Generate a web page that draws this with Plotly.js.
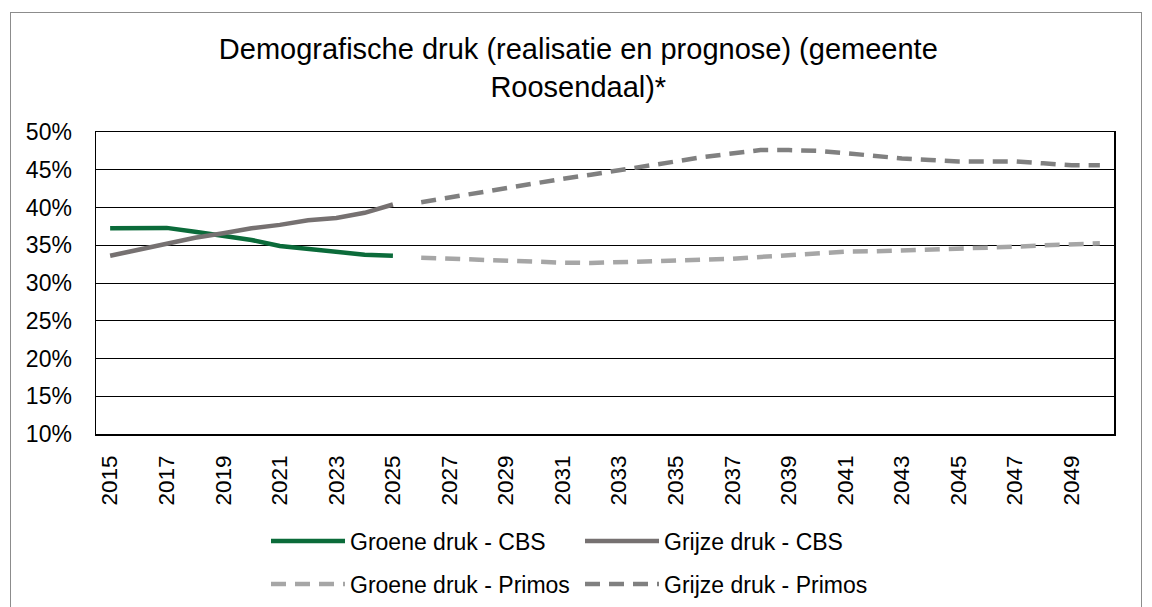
<!DOCTYPE html>
<html>
<head>
<meta charset="utf-8">
<script src="https://cdn.plot.ly/plotly-3.0.1.min.js"></script>
<style>
  html, body { margin: 0; padding: 0; background: #fff; }
  #wrap { position: relative; width: 1152px; height: 607px; overflow: hidden; }
  #chart { position: absolute; left: 0; top: 0; width: 1152px; height: 607px; }
  #frame { position: absolute; left: 10px; top: 12px; width: 1132px; height: 640px;
           border: 1.5px solid #8c8c8c; pointer-events: none; box-sizing: border-box; }
</style>
</head>
<body>
<div id="wrap">
  <div id="chart"></div>
  <div id="frame"></div>
</div>
<script>
// Years
const yearsCBS = [2015, 2016, 2017, 2018, 2019, 2020, 2021, 2022, 2023, 2024, 2025];
const yearsPrimos = [2026, 2027, 2028, 2029, 2030, 2031, 2032, 2033, 2034, 2035, 2036, 2037,
  2038, 2039, 2040, 2041, 2042, 2043, 2044, 2045, 2046, 2047, 2048, 2049, 2050];

// Values (%)
const groeneCBS = [37.25, 37.25, 37.3, 36.8, 36.3, 35.7, 34.9, 34.5, 34.0, 33.75, 33.6];
const grijzeCBS = [33.6, 34.4, 35.3, 36.0, 36.6, 37.25, 37.7, 38.3, 38.6, 39.3, 40.4];
const groenePrimos = [33.35, 33.2, 33.05, 32.9, 32.8, 32.7, 32.65, 32.75, 32.8, 32.9, 33.05, 33.2,
  33.45, 33.7, 33.95, 34.15, 34.2, 34.3, 34.45, 34.6, 34.7, 34.8, 35.0, 35.15, 35.25];
const grijzePrimos = [40.7, 41.35, 41.95, 42.6, 43.2, 43.8, 44.35, 44.9, 45.4, 46.1, 46.7, 47.2,
  47.6, 47.6, 47.5, 47.2, 46.8, 46.5, 46.3, 46.1, 46.1, 46.1, 45.85, 45.6, 45.6];

const xTicks = [2015, 2017, 2019, 2021, 2023, 2025, 2027, 2029, 2031, 2033, 2035, 2037,
  2039, 2041, 2043, 2045, 2047, 2049];
const seriesNames = ['Groene druk - CBS', 'Grijze druk - CBS', 'Groene druk - Primos', 'Grijze druk - Primos'];
const titleText = 'Demografische druk (realisatie en prognose) (gemeente<br>Roosendaal)*';

const FONT = 'Liberation Sans, Arial, sans-serif';
const dashPat = '15px,9px';

const traces = [
  { x: yearsCBS, y: groeneCBS, name: seriesNames[0], type: 'scatter', mode: 'lines',
    line: { color: '#0b6b3a', width: 4.5 }, legend: 'legend' },
  { x: yearsCBS, y: grijzeCBS, name: seriesNames[1], type: 'scatter', mode: 'lines',
    line: { color: '#767171', width: 4.5 }, legend: 'legend' },
  { x: yearsPrimos, y: groenePrimos, name: seriesNames[2], type: 'scatter', mode: 'lines',
    line: { color: '#a6a6a6', width: 4.5, dash: dashPat }, legend: 'legend2' },
  { x: yearsPrimos, y: grijzePrimos, name: seriesNames[3], type: 'scatter', mode: 'lines',
    line: { color: '#808080', width: 4.5, dash: dashPat }, legend: 'legend2' }
];

const legendCommon = {
  orientation: 'h', xref: 'paper', yref: 'container', xanchor: 'left', yanchor: 'middle',
  font: { family: FONT, size: 23, color: '#000' }, bgcolor: 'rgba(0,0,0,0)',
  itemwidth: 74, entrywidth: 225, entrywidthmode: 'pixels', tracegroupgap: 0
};

const layout = {
  width: 1152, height: 607,
  margin: { l: 96, r: 38, t: 132, b: 173 },
  paper_bgcolor: 'rgba(0,0,0,0)', plot_bgcolor: '#fff',
  font: { family: FONT, color: '#000' },
  title: { text: titleText, font: { family: FONT, size: 29, color: '#000' },
           x: 0.502, xanchor: 'center', y: 0.902, yanchor: 'top' },
  xaxis: {
    range: [2014.5, 2050.5], tickmode: 'array', tickvals: xTicks, ticktext: xTicks.map(String),
    tickangle: -90, tickfont: { family: FONT, size: 22.5, color: '#000' },
    showgrid: false, zeroline: false, showline: true, mirror: true,
    linecolor: '#000', linewidth: 1.5, ticks: '', ticklabelstandoff: 11, fixedrange: true
  },
  yaxis: {
    range: [10, 50], tick0: 10, dtick: 5, ticksuffix: '%',
    tickfont: { family: FONT, size: 23, color: '#000' },
    showgrid: true, gridcolor: '#000', gridwidth: 1, zeroline: false,
    showline: true, mirror: true, linecolor: '#000', linewidth: 1.5,
    ticks: '', ticklabelstandoff: 18, fixedrange: true
  },
  legend: Object.assign({}, legendCommon, { x: 0.167, y: 0.1087 }),
  legend2: Object.assign({}, legendCommon, { x: 0.167, y: 0.0379 }),
  showlegend: true
};

Plotly.newPlot('chart', traces, layout, { displayModeBar: false, staticPlot: true });
</script>
</body>
</html>
